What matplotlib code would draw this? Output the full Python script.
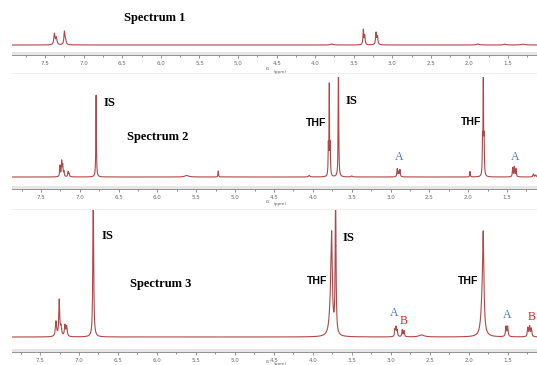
import numpy as np
import matplotlib
matplotlib.use("Agg")
import matplotlib.pyplot as plt

W, H = 537, 365

# ---------------- data (peak lists) ----------------
# Spectrum 1: positions (ppm), heights (px above baseline), half-widths (ppm)
s1_pos = [7.38, 7.355, 7.25, 7.235, 3.375, 3.357, 3.21, 3.192, 3.785, 1.89, 1.54, 1.30]
s1_hgt = [11.0, 7.0, 13.0, 4.0, 15.0, 9.0, 12.0, 8.0, 1.0, 1.0, 0.8, 0.8]
s1_wid = [0.009, 0.009, 0.008, 0.008, 0.006, 0.006, 0.007, 0.007, 0.02, 0.02, 0.02, 0.03]

# Spectrum 2
s2_pos = [7.255, 7.233, 7.22, 7.204, 7.15, 7.137, 6.79, 5.624, 5.217, 4.046,
          3.80, 3.788, 3.776, 3.67, 3.5, 2.913, 2.895, 2.878, 1.977,
          1.815, 1.805, 1.795, 1.427, 1.406, 1.384, 1.16, 1.13]
s2_hgt = [11.0, 15.0, 11.0, 5.0, 5.0, 3.0, 82.0, 1.5, 6.0, 1.5,
          30.0, 88.0, 30.0, 115.0, 1.0, 8.0, 5.0, 7.0, 5.5,
          35.0, 110.0, 35.0, 9.0, 10.0, 8.0, 3.0, 2.0]
s2_wid = [0.005, 0.005, 0.005, 0.005, 0.006, 0.006, 0.004, 0.03, 0.004, 0.01,
          0.004, 0.003, 0.004, 0.004, 0.01, 0.005, 0.005, 0.005, 0.004,
          0.004, 0.003, 0.004, 0.005, 0.005, 0.005, 0.007, 0.007]

# Spectrum 3
s3_pos = [7.295, 7.253, 7.23, 7.18, 7.158, 6.817,
          3.775, 3.76, 3.71, 2.949, 2.935, 2.92, 2.855, 2.832, 2.607,
          1.832, 1.817, 1.526, 1.504, 1.245, 1.222, 1.2]
s3_hgt = [15.0, 36.0, 9.0, 11.0, 10.0, 150.0,
          25.0, 88.0, 150.0, 7.0, 9.0, 6.0, 7.0, 6.0, 2.0,
          25.0, 90.0, 10.0, 10.0, 9.0, 10.0, 8.0]
s3_wid = [0.009, 0.007, 0.009, 0.008, 0.008, 0.006,
          0.02, 0.01, 0.006, 0.006, 0.006, 0.006, 0.006, 0.006, 0.04,
          0.02, 0.01, 0.007, 0.007, 0.007, 0.007, 0.007]

major_ticks = [7.5, 7.0, 6.5, 6.0, 5.5, 5.0, 4.5, 4.0, 3.5, 3.0, 2.5, 2.0, 1.5]
minor_ticks = [7.75, 7.25, 6.75, 6.25, 5.75, 5.25, 4.75, 4.25, 3.75, 3.25, 2.75, 2.25, 1.75, 1.25]
tick_labels = ["7.5", "7.0", "6.5", "6.0", "5.5", "5.0", "4.5", "4.0", "3.5", "3.0", "2.5", "2.0", "1.5"]

# ---------------- layout (pixels) ----------------
panels = [
    dict(top=4, base=45, line=55, xl=7.93, xr=1.124, pk=(s1_pos, s1_hgt, s1_wid)),
    dict(top=77, base=177, line=189, xl=7.873, xr=1.114, pk=(s2_pos, s2_hgt, s2_wid)),
    dict(top=210, base=337, line=352, xl=7.859, xr=1.128, pk=(s3_pos, s3_hgt, s3_wid)),
]
LEFT, RIGHT = 12, 537
LINE_COLOR = "#b04848"

fig = plt.figure(figsize=(W / 100, H / 100), dpi=100)
fig.patch.set_facecolor("white")


def fx(x):
    return x / W


def fy(y):
    return 1 - y / H


def lorentz(x, pos, hgt, wid):
    y = np.zeros_like(x)
    for p, h, w in zip(pos, hgt, wid):
        y += h * w * w / ((x - p) ** 2 + w * w)
    return y


for P in panels:
    ax = fig.add_axes([fx(LEFT), fy(P["line"]), fx(RIGHT - LEFT), (P["line"] - P["top"]) / H])
    ymin = -(P["line"] - P["base"])
    ymax = P["base"] - P["top"]
    x = np.linspace(P["xr"], P["xl"], 12000)
    pos, hgt, wid = P["pk"]
    ax.plot(x, lorentz(x, pos, hgt, wid), color=LINE_COLOR, lw=0.8)
    ax.set_xlim(P["xl"], P["xr"])
    ax.set_ylim(ymin, ymax)
    ax.axhspan(ymin, ymin + 3.5, color="#e6e6e6", lw=0, zorder=0)
    for s in ["top", "left", "right"]:
        ax.spines[s].set_visible(False)
    ax.spines["bottom"].set_color("#808080")
    ax.spines["bottom"].set_linewidth(0.6)
    ax.set_yticks([])
    ax.set_xticks(major_ticks)
    ax.set_xticklabels(tick_labels)
    ax.set_xticks(minor_ticks, minor=True)
    ax.tick_params(axis="x", which="both", direction="out", length=1.8, width=0.5,
                   colors="#666666", labelsize=4, pad=2.3)
    ax.tick_params(axis="x", which="minor", length=1.4)
    ax.patch.set_alpha(0)

# f1 (ppm) labels
for yy in [69, 202, 362]:
    fig.text(fx(268), fy(yy), "f1", fontsize=3.2, color="#666666", ha="center", va="center")
    fig.text(fx(280), fy(yy + 2.5), "(ppm)", fontsize=3.2, color="#666666", ha="center", va="center")

# faint separators
for yy in [73, 209]:
    fig.add_artist(plt.Line2D([fx(LEFT), fx(RIGHT)], [fy(yy), fy(yy)], color="#ececec", lw=0.6))

serif = ["Liberation Serif", "DejaVu Serif"]
sans = ["Liberation Sans", "DejaVu Sans"]


def t(x, y, s, fam, size, color="black", weight="bold"):
    fig.text(fx(x), fy(y), s, fontsize=size, family=fam, color=color, weight=weight,
             ha="center", va="center")


t(155, 18, "Spectrum 1", serif, 9)
t(158, 137, "Spectrum 2", serif, 9)
t(161, 284, "Spectrum 3", serif, 9)

t(109, 103, "IS", serif, 9)
t(351, 101, "IS", serif, 9)
t(107, 236, "IS", serif, 9)
t(348, 238, "IS", serif, 9)

t(316, 123, "THF", sans, 7.5)
t(471, 122, "THF", sans, 7.5)
t(317, 281, "THF", sans, 7.5)
t(468, 281, "THF", sans, 7.5)

BLUE, RED = "#4a78c8", "#e52525"
t(399, 157, "A", serif, 8.5, BLUE, "normal")
t(515, 157, "A", serif, 8.5, BLUE, "normal")
t(394, 313, "A", serif, 8.5, BLUE, "normal")
t(507, 315, "A", serif, 8.5, BLUE, "normal")
t(404, 321, "B", serif, 8.5, RED, "normal")
t(532, 317, "B", serif, 8.5, RED, "normal")

fig.savefig("out.png", dpi=100, facecolor="white")
